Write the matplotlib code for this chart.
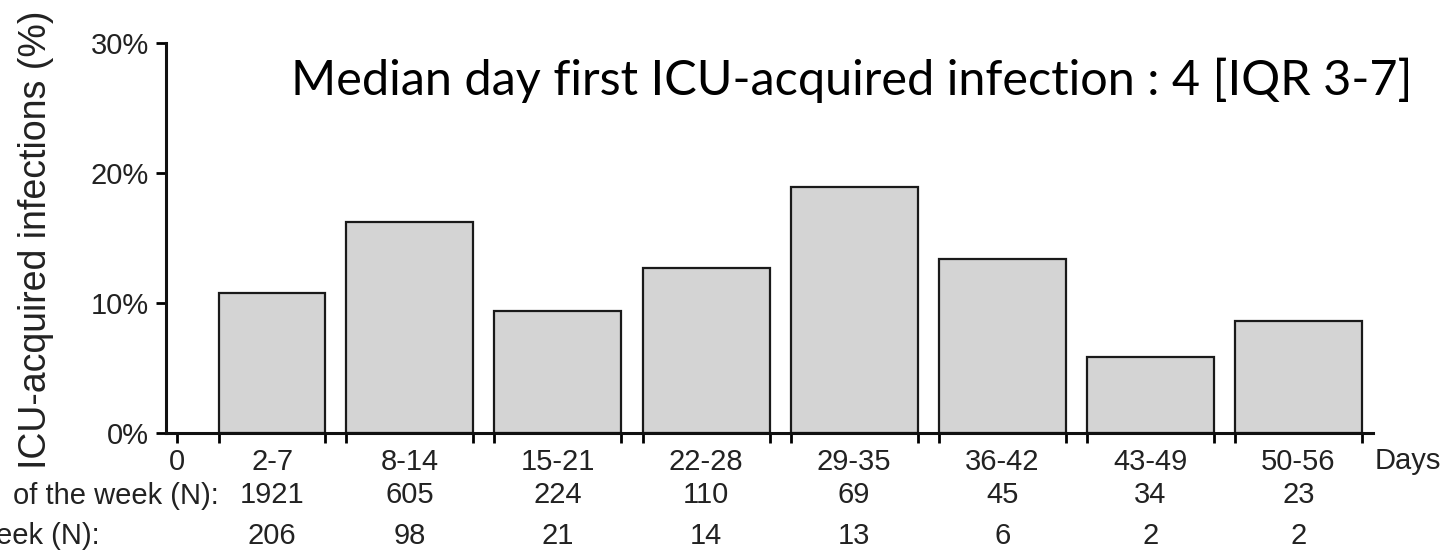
import numpy as np
import matplotlib.pyplot as plt

# Data
bin_start = [2, 8, 15, 22, 29, 36, 43, 50]
bin_end = [7, 14, 21, 28, 35, 42, 49, 56]
bin_labels = ['2-7', '8-14', '15-21', '22-28', '29-35', '36-42', '43-49', '50-56']
pct_infections = [10.75, 16.25, 9.38, 12.72, 18.9, 13.36, 5.82, 8.64]  # %
n_at_start = [1921, 605, 224, 110, 69, 45, 34, 23]
n_infections = [206, 98, 21, 14, 13, 6, 2, 2]
title_text = 'Median day first ICU-acquired infection : 4 [IQR 3-7]'

W, H = 1453, 552
fig = plt.figure(figsize=(W / 100, H / 100), dpi=100)
ax = fig.add_axes([166 / W, (H - 433) / H, (1373 - 166) / W, 390 / H])

start = np.array(bin_start)
end = np.array(bin_end)
ax.bar(start, pct_infections, width=end - start, align='edge',
       color='#d4d4d4', edgecolor='#1a1a1a', linewidth=1.6)

ax.set_xlim(-0.52, 56.52)
ax.set_ylim(0, 30)

for s in ['top', 'right']:
    ax.spines[s].set_visible(False)
for s in ['left', 'bottom']:
    ax.spines[s].set_linewidth(2.2)
    ax.spines[s].set_color('#111111')

font = 'Liberation Sans'
txt = '#222222'
ax.set_yticks([0, 10, 20, 30])
ax.set_yticklabels(['0%', '10%', '20%', '30%'], fontsize=21, family=font, color=txt)
ax.tick_params(axis='y', direction='out', length=7.5, width=2, pad=5)

edges = [0] + [v for pair in zip(bin_start, bin_end) for v in pair]
ax.set_xticks(edges)
ax.set_xticklabels(['0'] + [''] * (len(edges) - 1), fontsize=21, family=font, color=txt)
ax.tick_params(axis='x', which='major', direction='out', length=7, width=2, pad=4)
mids = (start + end) / 2
ax.set_xticks(mids, minor=True)
ax.set_xticklabels(bin_labels, minor=True, fontsize=21, family=font, color=txt)
ax.tick_params(axis='x', which='minor', length=0, pad=11)

trans = ax.get_xaxis_transform()
for x, a, b in zip(mids, n_at_start, n_infections):
    ax.text(x, -0.160, str(a), transform=trans, ha='center', va='center',
            fontsize=21, family=font, color=txt)
    ax.text(x, -0.263, str(b), transform=trans, ha='center', va='center',
            fontsize=21, family=font, color=txt)

ax.text(1.001, -0.072, 'Days', transform=ax.transAxes, ha='left', va='center',
        fontsize=21, family=font, color=txt)
fig.text(219 / W, 1 - 495.5 / H, 'of the week (N):', ha='right', va='center',
         fontsize=21, family=font, color=txt)
fig.text(100 / W, 1 - 535.5 / H, 'week (N):', ha='right', va='center',
         fontsize=21, family=font, color=txt)

fig.text(36 / W, 1 - 240 / H, 'ICU-acquired infections (%)', rotation=90,
         ha='center', va='center', fontsize=27, family=font, color=txt)

ax.text(0.568, 0.905, title_text, transform=ax.transAxes, ha='center', va='center',
        fontsize=35, family='Lato', color='black')

fig.savefig('out.png', dpi=100)
